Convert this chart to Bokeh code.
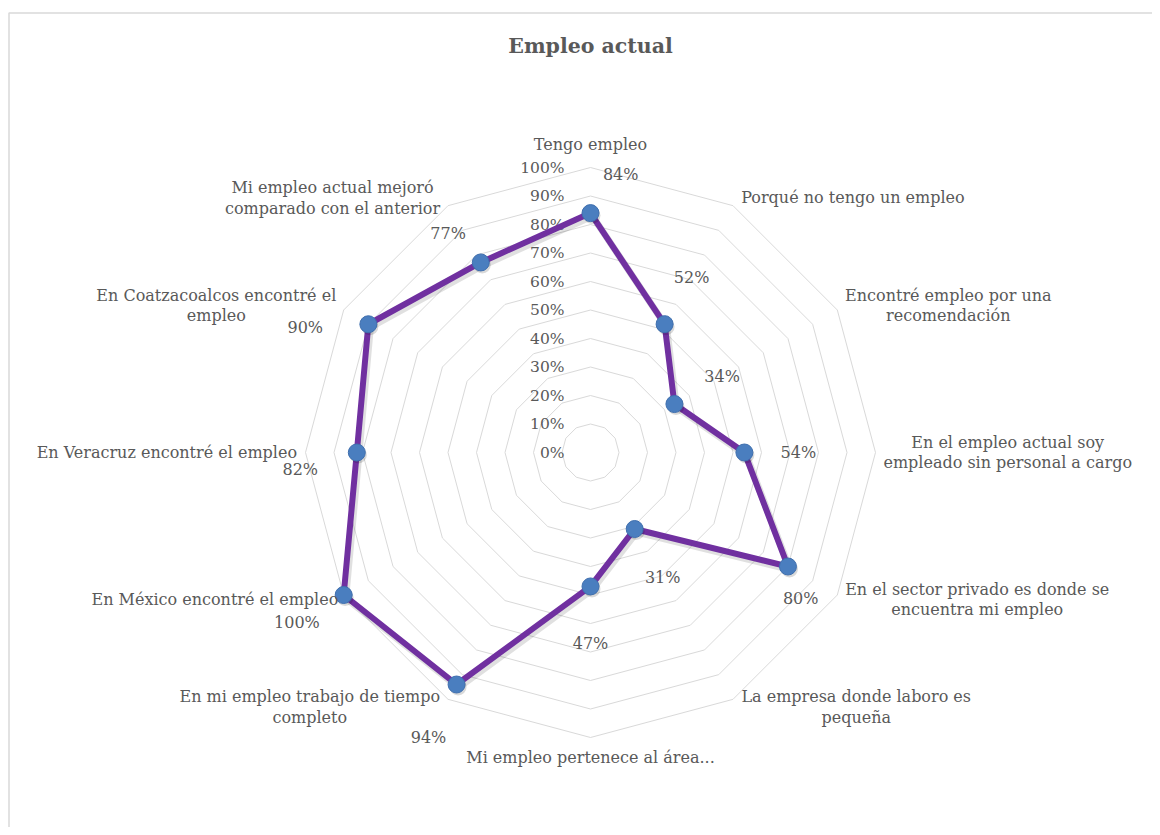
import math
from bokeh.plotting import figure
from bokeh.models import Range1d
from bokeh.core.properties import value
from bokeh.embed import file_html
from bokeh.resources import INLINE

# ---------------- data ----------------
title_text = "Empleo actual"
categories = [
    "Tengo empleo",
    "Porqué no tengo un empleo",
    "Encontré empleo por una\nrecomendación",
    "En el empleo actual soy\nempleado sin personal a cargo",
    "En el sector privado es donde se\nencuentra mi empleo",
    "La empresa donde laboro es\npequeña",
    "Mi empleo pertenece al área...",
    "En mi empleo trabajo de tiempo\ncompleto",
    "En México encontré el empleo",
    "En Veracruz encontré el empleo",
    "En Coatzacoalcos encontré el\nempleo",
    "Mi empleo actual mejoró\ncomparado con el anterior",
]
values = [84, 52, 34, 54, 80, 31, 47, 94, 100, 82, 90, 77]
ticks = [0, 10, 20, 30, 40, 50, 60, 70, 80, 90, 100]
tick_labels = [f"{t}%" for t in ticks]
value_labels = [f"{v}%" for v in values]

# data-label nudges (layout only): extra radius in px, extra angle in degrees
lab_dr = [40, 54, 55, 54, 28, 56, 57, 60, 54, 57, 55, 42]
lab_da = [6.2, 0, 0, 0, 4.8, 0, 0, -0.4, 0, -3.3, -6.3, -3]

# ---------------- layout ----------------
W, H = 1152, 827
S = 285.0            # px per 100%
CX, CY = 590, 452    # centre in figure pixels
FONT = "DejaVu Serif"
FS = 16
GREY = "#595959"

# approximate advance widths (em) for DejaVu Serif, used to centre wrapped labels
EM = {" ": 0.318, "i": 0.32, "l": 0.32, "j": 0.32, "t": 0.40, "f": 0.37,
      "r": 0.478, "s": 0.513, "c": 0.56, "z": 0.525, "m": 0.948, "w": 0.856,
      ".": 0.318, "é": 0.592, "e": 0.592, "a": 0.596, "ó": 0.602, "o": 0.602,
      "á": 0.596, "ñ": 0.640, "n": 0.640, "u": 0.640, "p": 0.640, "d": 0.640,
      "g": 0.640, "b": 0.640, "y": 0.565, "v": 0.565, "x": 0.565, "k": 0.6}

def text_w(t):
    return sum(EM.get(ch, 0.72 if ch.isupper() else 0.6) for ch in t) * FS

def px(d):
    return d / S

def X(page_x):
    return (page_x - CX) / S

def Y(page_y):
    return (CY - page_y) / S

p = figure(width=W, height=H, output_backend="svg", toolbar_location=None,
           x_range=Range1d(-CX / S, (W - CX) / S),
           y_range=Range1d(-(H - CY) / S, CY / S),
           min_border=0)
p.axis.visible = False
p.grid.visible = False
p.outline_line_color = None
p.background_fill_color = "white"
p.border_fill_color = "white"

# chart-area border (only left/top edges fall inside the view)
p.quad(left=[X(8.5)], right=[X(W + 20)], top=[Y(12.5)], bottom=[Y(H + 20)],
       fill_color=None, line_color="#D9D9D9", line_width=1.5)

n = len(categories)
angles = [2 * math.pi * i / n for i in range(n)]  # clockwise from top

# rings
for t in ticks[1:]:
    r = t / 100
    xs = [r * math.sin(a) for a in angles] + [0]
    ys = [r * math.cos(a) for a in angles] + [r]
    p.line(xs, ys, line_color="#D9D9D9", line_width=1)

# tick labels
p.text(x=[px(-26)] * len(ticks), y=[t / 100 for t in ticks], text=tick_labels,
       text_align="right", text_baseline="middle",
       text_font=value(FONT), text_font_size=value("15.5px"), text_color=GREY)

# series
sx = [v / 100 * math.sin(a) for v, a in zip(values, angles)]
sy = [v / 100 * math.cos(a) for v, a in zip(values, angles)]
sxc, syc = sx + [sx[0]], sy + [sy[0]]
# soft shadow
p.line([x + px(2) for x in sxc], [y - px(3) for y in syc], line_color="black",
       line_alpha=0.12, line_width=7, line_join="round")
p.line(sxc, syc, line_color="#7030A0", line_width=6, line_join="round")
p.scatter([x + px(1.5) for x in sx], [y - px(2.5) for y in sy], size=17,
          fill_color="black", fill_alpha=0.15, line_color=None)
p.scatter(sx, sy, size=17, fill_color="#4A7EBF", line_color="#3F6FAE", line_width=1)

# value labels
vx, vy = [], []
for v, a, dr, da in zip(values, angles, lab_dr, lab_da):
    rr = v / 100 + px(dr)
    aa = a + math.radians(da)
    vx.append(rr * math.sin(aa))
    vy.append(rr * math.cos(aa))
p.text(x=vx, y=vy, text=value_labels, text_align="center", text_baseline="middle",
       text_font=value(FONT), text_font_size=value(f"{FS}px"), text_color=GREY)

# category labels
LINE_H = 1.1
LINE_PX = 22
for cat, a in zip(categories, angles):
    s, c = math.sin(a), math.cos(a)
    vxp, vyp = s * 1.0, c * 1.0
    lines = cat.split("\n")
    w = max(text_w(l) for l in lines)
    nl = len(lines)
    bh = nl * LINE_PX
    if abs(s) < 0.01:
        x = vxp
        if c > 0:
            y = vyp + px(12 + bh / 2)
        else:
            y = vyp - px(9 + bh / 2)
    else:
        sign = 1 if s > 0 else -1
        x = vxp + sign * px(8 + w / 2)
        y = vyp + px(9 * c)
    p.text(x=[x], y=[y], text=[cat], text_align="center", text_baseline="middle",
           text_font=value(FONT), text_font_size=value(f"{FS}px"), text_color=GREY,
           text_line_height=LINE_H)

# title
p.text(x=[0], y=[Y(45)], text=[title_text], text_align="center",
       text_baseline="middle", text_font=value(FONT), text_font_style="bold",
       text_font_size=value("20.5px"), text_color=GREY)

open("out.html", "w").write(file_html(p, INLINE))
